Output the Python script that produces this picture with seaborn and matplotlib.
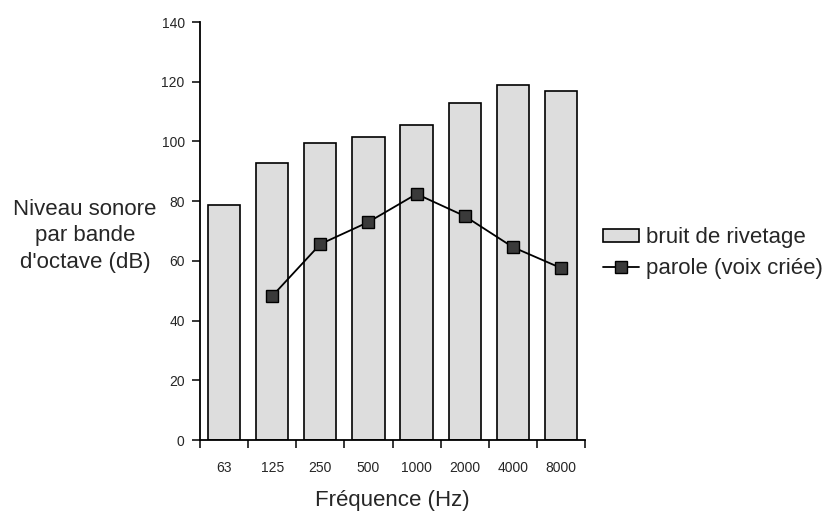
import numpy as np
import pandas as pd
import matplotlib
matplotlib.use("Agg")
import matplotlib.pyplot as plt
import seaborn as sns
from matplotlib.patches import Patch
from matplotlib.lines import Line2D
from matplotlib.ticker import FixedLocator

# data
freq_labels = ["63", "125", "250", "500", "1000", "2000", "4000", "8000"]
rivetage = [78.7, 92.8, 99.5, 101.5, 105.5, 112.9, 118.9, 116.9]
parole_freqs = ["125", "250", "500", "1000", "2000", "4000", "8000"]
parole = [48.2, 65.6, 73.0, 82.4, 75.0, 64.6, 57.6]

sns.set_style("white")
plt.rcParams['font.family'] = ['Liberation Sans', 'DejaVu Sans']

bars_df = pd.DataFrame({"freq": freq_labels, "niveau": rivetage})
line_df = pd.DataFrame({"freq": parole_freqs, "niveau": parole})

fig = plt.figure(figsize=(8.28, 5.12), dpi=100)
ax = fig.add_axes([200 / 828, 1 - 440 / 512, 385 / 828, 418 / 512])

sns.barplot(data=bars_df, x="freq", y="niveau", order=freq_labels, ax=ax,
            color="#dddddd", edgecolor="black", linewidth=1.2, width=0.67,
            saturation=1)
sns.pointplot(data=line_df, x="freq", y="niveau", order=freq_labels, ax=ax,
              color="black", markers="s", linestyles="-", errorbar=None,
              markersize=8.5, markerfacecolor="#3a3a3a", markeredgecolor="black",
              markeredgewidth=1.0, linewidth=1.3)

ax.set_xlim(-0.5, 7.5)
ax.set_ylim(0, 140)
ax.set_yticks(np.arange(0, 141, 20))
ax.tick_params(axis="y", which="major", direction="out", length=6, width=1.3,
               labelsize=10, pad=5, left=True)
ax.tick_params(axis="x", which="major", length=0, labelsize=10, pad=15)
ax.xaxis.set_minor_locator(FixedLocator(np.arange(-0.5, 8, 1)))
ax.tick_params(axis="x", which="minor", direction="out", length=6, width=1.3,
               bottom=True)
for side in ["top", "right"]:
    ax.spines[side].set_visible(False)
for side in ["left", "bottom"]:
    ax.spines[side].set_linewidth(1.3)
    ax.spines[side].set_color("black")

ax.set_xlabel("Fréquence (Hz)", fontsize=16, labelpad=11)
ax.set_ylabel("")
fig.text(85 / 828, 1 - 236 / 512, "Niveau sonore\npar bande\nd'octave (dB)",
         ha="center", va="center", fontsize=16, linespacing=1.32)

handles = [
    Patch(facecolor="#dddddd", edgecolor="black", linewidth=1.2),
    Line2D([], [], color="black", marker="s", markersize=8.5,
           markerfacecolor="#3a3a3a", markeredgecolor="black", linewidth=1.3),
]
fig.legend(handles, ["bruit de rivetage", "parole (voix criée)"],
           loc="center left", bbox_to_anchor=(603 / 828, 1 - 253 / 512),
           frameon=False, fontsize=16, handlelength=1.6, handleheight=0.5,
           handletextpad=0.35, labelspacing=0.42, borderpad=0,
           borderaxespad=0)

fig.savefig("out.png", dpi=100)
